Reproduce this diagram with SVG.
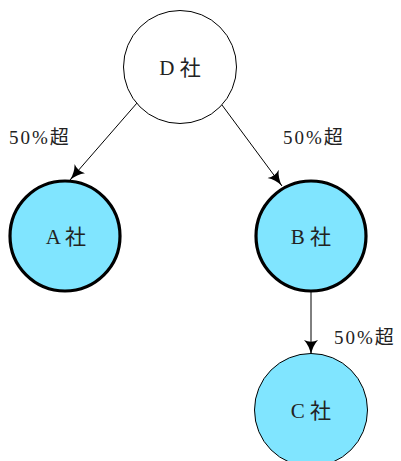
<svg xmlns="http://www.w3.org/2000/svg" width="401" height="461" viewBox="0 0 401 461">
<style>
.node{stroke:#000;}
.plain{fill:#fff;stroke-width:1;}
.sub{fill:#80e5ff;}
.thick{stroke-width:3.2;}
.thin{stroke-width:1;}
text{font-family:"Liberation Serif","Noto Sans CJK JP",serif;fill:#222;}
.lbl{font-size:21px;text-anchor:middle;}
.edge{font-size:19px;letter-spacing:2px;}
.conn line{stroke:#000;stroke-width:1;}
</style>
<defs>
<marker id="ah" viewBox="0 0 16 16" refX="15" refY="8" markerWidth="16" markerHeight="16" markerUnits="userSpaceOnUse" orient="auto">
<path d="M0,1 Q6,6.5 15,8 Q6,9.5 0,15 Q3.5,8 0,1 Z" fill="#000"/>
</marker>
</defs>
<g class="conn">
<line x1="137" y1="103" x2="70" y2="180" marker-end="url(#ah)"/>
<line x1="222" y1="105" x2="282" y2="186" marker-end="url(#ah)"/>
<line x1="311" y1="292" x2="311" y2="355" marker-end="url(#ah)"/>
<text class="edge" x="9" y="144">50%超</text>
<text class="edge" x="283" y="144">50%超</text>
<text class="edge" x="334" y="344">50%超</text>
</g>
<g id="nodeD">
<circle class="node plain" cx="180" cy="67" r="56.5"/>
<text class="lbl" x="180" y="75">D 社</text>
</g>
<g id="nodeA">
<circle class="node sub thick" cx="65" cy="236" r="55"/>
<text class="lbl" x="66" y="244">A 社</text>
</g>
<g id="nodeB">
<circle class="node sub thick" cx="311" cy="236" r="55"/>
<text class="lbl" x="311" y="244">B 社</text>
</g>
<g id="nodeC">
<circle class="node sub thin" cx="311" cy="410" r="56.5"/>
<text class="lbl" x="311" y="418">C 社</text>
</g>
</svg>
